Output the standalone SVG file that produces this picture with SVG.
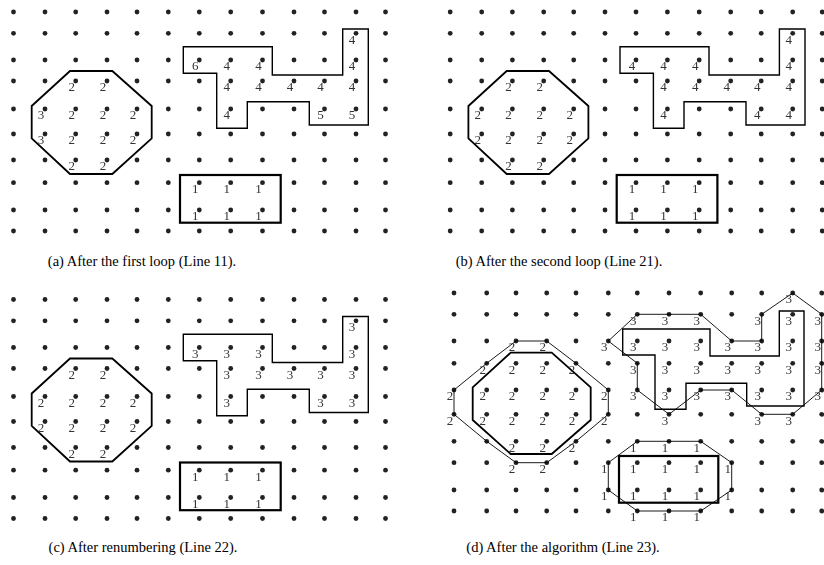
<svg xmlns="http://www.w3.org/2000/svg" xmlns:xlink="http://www.w3.org/1999/xlink" width="824" height="565" viewBox="0 0 824 565">
<style>
.dot{fill:#222}
.thick{fill:none;stroke:#000;stroke-width:1.8;stroke-linejoin:miter}
.mid{fill:none;stroke:#000;stroke-width:1.4}
.thin{fill:none;stroke:#000;stroke-width:0.9}
.lbs{filter:url(#gray)}
.lb{font-family:"Liberation Serif",serif;font-size:13px;fill:#333;text-anchor:end}
.cap{font-family:"Liberation Serif",serif;font-size:14.5px;fill:#000;text-anchor:middle}
</style>
<defs>
<filter id="gray" x="0" y="0" width="1" height="1"><feOffset dx="0" dy="0"/></filter>
<g id="rowABC" class="dot">
<circle cx="13.5" cy="0" r="2.4"/><circle cx="45" cy="0" r="2.4"/><circle cx="75.7" cy="0" r="2.4"/><circle cx="107" cy="0" r="2.4"/><circle cx="137" cy="0" r="2.4"/><circle cx="168.3" cy="0" r="2.4"/><circle cx="199.3" cy="0" r="2.4"/><circle cx="230.7" cy="0" r="2.4"/><circle cx="262.5" cy="0" r="2.4"/><circle cx="294" cy="0" r="2.4"/><circle cx="324.5" cy="0" r="2.4"/><circle cx="356" cy="0" r="2.4"/><circle cx="385.5" cy="0" r="2.4"/>
</g>
<g id="rowD" class="dot">
<circle cx="454" cy="0" r="2.4"/><circle cx="486.7" cy="0" r="2.4"/><circle cx="516" cy="0" r="2.4"/><circle cx="546.7" cy="0" r="2.4"/><circle cx="576" cy="0" r="2.4"/><circle cx="608.3" cy="0" r="2.4"/><circle cx="637.3" cy="0" r="2.4"/><circle cx="669" cy="0" r="2.4"/><circle cx="700.7" cy="0" r="2.4"/><circle cx="731.7" cy="0" r="2.4"/><circle cx="761.7" cy="0" r="2.4"/><circle cx="792.7" cy="0" r="2.4"/><circle cx="821.7" cy="0" r="2.4"/>
</g>
<g id="gridABC">
<use xlink:href="#rowABC" y="12"/><use xlink:href="#rowABC" y="33.3"/><use xlink:href="#rowABC" y="60"/><use xlink:href="#rowABC" y="81"/><use xlink:href="#rowABC" y="109"/><use xlink:href="#rowABC" y="134"/><use xlink:href="#rowABC" y="160"/><use xlink:href="#rowABC" y="182.7"/><use xlink:href="#rowABC" y="210"/><use xlink:href="#rowABC" y="231"/>
</g>
<g id="shapesABC">
<polygon class="thick" points="70,71 112.3,71 151.7,106 151.7,138.3 112.3,174 70,174 31.7,138.3 31.7,106"/>
<polygon class="mid" points="183.3,46.7 272.3,46.7 272.3,75 342.7,75 342.7,29 368.3,29 368.3,125 309.3,125 309.3,101.7 247.3,101.7 247.3,128.3 216.7,128.3 216.7,73.3 183.3,73.3"/>
<rect class="thick" x="180" y="175" width="100.7" height="47.7" style="stroke-width:2.2"/>
</g>
</defs>

<!-- Panel (a) -->
<g id="panel-a">
<use xlink:href="#gridABC"/>
<use xlink:href="#shapesABC"/>
<g id="labels-a" class="lbs" transform="translate(0.8,-0.6)">
<text class="lb" x="74.2" y="92">2</text><text class="lb" x="105.5" y="92">2</text>
<text class="lb" x="43.5" y="120">3</text><text class="lb" x="74.2" y="120">2</text><text class="lb" x="105.5" y="120">2</text><text class="lb" x="135.5" y="120">2</text>
<text class="lb" x="43.5" y="145">3</text><text class="lb" x="74.2" y="145">2</text><text class="lb" x="105.5" y="145">2</text><text class="lb" x="135.5" y="145">2</text>
<text class="lb" x="74.2" y="171">2</text><text class="lb" x="105.5" y="171">2</text>
<text class="lb" x="354.5" y="44.3">4</text>
<text class="lb" x="197.8" y="71">6</text><text class="lb" x="229.2" y="71">4</text><text class="lb" x="261" y="71">4</text><text class="lb" x="354.5" y="71">4</text>
<text class="lb" x="229.2" y="92">4</text><text class="lb" x="261" y="92">4</text><text class="lb" x="292.5" y="92">4</text><text class="lb" x="323" y="92">4</text><text class="lb" x="354.5" y="92">4</text>
<text class="lb" x="229.2" y="120">4</text><text class="lb" x="323" y="120">5</text><text class="lb" x="354.5" y="120">5</text>
<text class="lb" x="197.8" y="193.7">1</text><text class="lb" x="229.2" y="193.7">1</text><text class="lb" x="261" y="193.7">1</text>
<text class="lb" x="197.8" y="221">1</text><text class="lb" x="229.2" y="221">1</text><text class="lb" x="261" y="221">1</text>
</g>
<text class="cap" x="142" y="266">(a) After the first loop (Line 11).</text>
</g>

<!-- Panel (b) -->
<g id="panel-b">
<g transform="translate(436.7,0)">
<use xlink:href="#gridABC"/>
<use xlink:href="#shapesABC"/>
<g id="labels-b" class="lbs" transform="translate(0.8,-0.6)">
<text class="lb" x="74.2" y="92">2</text><text class="lb" x="105.5" y="92">2</text>
<text class="lb" x="43.5" y="120">2</text><text class="lb" x="74.2" y="120">2</text><text class="lb" x="105.5" y="120">2</text><text class="lb" x="135.5" y="120">2</text>
<text class="lb" x="43.5" y="145">2</text><text class="lb" x="74.2" y="145">2</text><text class="lb" x="105.5" y="145">2</text><text class="lb" x="135.5" y="145">2</text>
<text class="lb" x="74.2" y="171">2</text><text class="lb" x="105.5" y="171">2</text>
<text class="lb" x="354.5" y="44.3">4</text>
<text class="lb" x="197.8" y="71">4</text><text class="lb" x="229.2" y="71">4</text><text class="lb" x="261" y="71">4</text><text class="lb" x="354.5" y="71">4</text>
<text class="lb" x="229.2" y="92">4</text><text class="lb" x="261" y="92">4</text><text class="lb" x="292.5" y="92">4</text><text class="lb" x="323" y="92">4</text><text class="lb" x="354.5" y="92">4</text>
<text class="lb" x="229.2" y="120">4</text><text class="lb" x="323" y="120">4</text><text class="lb" x="354.5" y="120">4</text>
<text class="lb" x="197.8" y="193.7">1</text><text class="lb" x="229.2" y="193.7">1</text><text class="lb" x="261" y="193.7">1</text>
<text class="lb" x="197.8" y="221">1</text><text class="lb" x="229.2" y="221">1</text><text class="lb" x="261" y="221">1</text>
</g>
</g>
<text class="cap" x="559" y="266">(b) After the second loop (Line 21).</text>
</g>

<!-- Panel (c) -->
<g id="panel-c">
<g transform="translate(0,287.5)">
<use xlink:href="#gridABC"/>
<use xlink:href="#shapesABC"/>
<g id="labels-c" class="lbs" transform="translate(0.8,-0.6)">
<text class="lb" x="74.2" y="92">2</text><text class="lb" x="105.5" y="92">2</text>
<text class="lb" x="43.5" y="120">2</text><text class="lb" x="74.2" y="120">2</text><text class="lb" x="105.5" y="120">2</text><text class="lb" x="135.5" y="120">2</text>
<text class="lb" x="43.5" y="145">2</text><text class="lb" x="74.2" y="145">2</text><text class="lb" x="105.5" y="145">2</text><text class="lb" x="135.5" y="145">2</text>
<text class="lb" x="74.2" y="171">2</text><text class="lb" x="105.5" y="171">2</text>
<text class="lb" x="354.5" y="44.3">3</text>
<text class="lb" x="197.8" y="71">3</text><text class="lb" x="229.2" y="71">3</text><text class="lb" x="261" y="71">3</text><text class="lb" x="354.5" y="71">3</text>
<text class="lb" x="229.2" y="92">3</text><text class="lb" x="261" y="92">3</text><text class="lb" x="292.5" y="92">3</text><text class="lb" x="323" y="92">3</text><text class="lb" x="354.5" y="92">3</text>
<text class="lb" x="229.2" y="120">3</text><text class="lb" x="323" y="120">3</text><text class="lb" x="354.5" y="120">3</text>
<text class="lb" x="197.8" y="193.7">1</text><text class="lb" x="229.2" y="193.7">1</text><text class="lb" x="261" y="193.7">1</text>
<text class="lb" x="197.8" y="221">1</text><text class="lb" x="229.2" y="221">1</text><text class="lb" x="261" y="221">1</text>
</g>
</g>
<text class="cap" x="143" y="552">(c) After renumbering (Line 22).</text>
</g>

<!-- Panel (d) -->
<g id="panel-d">
<g id="grid-d">
<use xlink:href="#rowD" y="293"/><use xlink:href="#rowD" y="314.3"/><use xlink:href="#rowD" y="341"/><use xlink:href="#rowD" y="363.3"/><use xlink:href="#rowD" y="390"/><use xlink:href="#rowD" y="414.3"/><use xlink:href="#rowD" y="441.3"/><use xlink:href="#rowD" y="462.7"/><use xlink:href="#rowD" y="490"/><use xlink:href="#rowD" y="511"/>
</g>
<g id="shapes-d">
<polygon class="thick" points="510.7,352.7 551.7,352.7 590.7,387.3 590.7,420 551.7,454 510.7,454 472.7,420 472.7,387.3"/>
<polygon class="mid" points="622.7,329 710,329 710,356 779.3,356 779.3,311 804,311 804,406 746.7,406 746.7,383.3 686,383.3 686,409.3 655,409.3 655,355 622.7,355"/>
<rect class="thick" x="619" y="456" width="99.3" height="46.7" style="stroke-width:2.2"/>
</g>
<g id="connectors-d">
<polygon class="thin" points="516,341 546.7,341 576,363.3 608.3,390 608.3,414.3 576,441.3 546.7,462.7 516,462.7 486.7,441.3 454,414.3 454,390 486.7,363.3"/>
<polygon class="thin" points="608.3,341 637.3,314.3 669,314.3 700.7,314.3 731.7,341 761.7,341 761.7,314.3 792.7,293 821.7,314.3 821.7,390 792.7,414.3 761.7,414.3 731.7,390 700.7,390 669,414.3 637.3,390 637.3,363.3"/>
<polygon class="thin" points="637.3,441.3 669,441.3 700.7,441.3 731.7,462.7 731.7,490 700.7,511 669,511 637.3,511 608.3,490 608.3,462.7"/>
</g>
<g id="labels-d" class="lbs" transform="translate(0.8,-0.6)">
<text class="lb" x="514.5" y="352">2</text><text class="lb" x="545.2" y="352">2</text>
<text class="lb" x="485.2" y="374.3">2</text><text class="lb" x="514.5" y="374.3">2</text><text class="lb" x="545.2" y="374.3">2</text><text class="lb" x="574.5" y="374.3">2</text>
<text class="lb" x="452.5" y="401">2</text><text class="lb" x="485.2" y="401">2</text><text class="lb" x="514.5" y="401">2</text><text class="lb" x="545.2" y="401">2</text><text class="lb" x="574.5" y="401">2</text><text class="lb" x="606.8" y="401">2</text>
<text class="lb" x="452.5" y="425.3">2</text><text class="lb" x="485.2" y="425.3">2</text><text class="lb" x="514.5" y="425.3">2</text><text class="lb" x="545.2" y="425.3">2</text><text class="lb" x="574.5" y="425.3">2</text><text class="lb" x="606.8" y="425.3">2</text>
<text class="lb" x="514.5" y="452.3">2</text><text class="lb" x="545.2" y="452.3">2</text><text class="lb" x="574.5" y="452.3">2</text>
<text class="lb" x="514.5" y="473.7">2</text><text class="lb" x="545.2" y="473.7">2</text>

<text class="lb" x="791.2" y="304">3</text>
<text class="lb" x="635.8" y="325.3">3</text><text class="lb" x="667.5" y="325.3">3</text><text class="lb" x="699.2" y="325.3">3</text><text class="lb" x="760.2" y="325.3">3</text><text class="lb" x="791.2" y="325.3">3</text><text class="lb" x="820.2" y="325.3">3</text>
<text class="lb" x="606.8" y="352">3</text><text class="lb" x="635.8" y="352">3</text><text class="lb" x="667.5" y="352">3</text><text class="lb" x="699.2" y="352">3</text><text class="lb" x="730.2" y="352">3</text><text class="lb" x="760.2" y="352">3</text><text class="lb" x="791.2" y="352">3</text><text class="lb" x="820.2" y="352">3</text>
<text class="lb" x="635.8" y="374.3">3</text><text class="lb" x="667.5" y="374.3">3</text><text class="lb" x="699.2" y="374.3">3</text><text class="lb" x="730.2" y="374.3">3</text><text class="lb" x="760.2" y="374.3">3</text><text class="lb" x="791.2" y="374.3">3</text><text class="lb" x="820.2" y="374.3">3</text>
<text class="lb" x="635.8" y="401">3</text><text class="lb" x="667.5" y="401">3</text><text class="lb" x="699.2" y="401">3</text><text class="lb" x="730.2" y="401">3</text><text class="lb" x="760.2" y="401">3</text><text class="lb" x="791.2" y="401">3</text><text class="lb" x="820.2" y="401">3</text>
<text class="lb" x="667.5" y="425.3">3</text><text class="lb" x="760.2" y="425.3">3</text><text class="lb" x="791.2" y="425.3">3</text>

<text class="lb" x="635.8" y="452.3">1</text><text class="lb" x="667.5" y="452.3">1</text><text class="lb" x="699.2" y="452.3">1</text>
<text class="lb" x="606.8" y="473.7">1</text><text class="lb" x="635.8" y="473.7">1</text><text class="lb" x="667.5" y="473.7">1</text><text class="lb" x="699.2" y="473.7">1</text><text class="lb" x="730.2" y="473.7">1</text>
<text class="lb" x="606.8" y="501">1</text><text class="lb" x="635.8" y="501">1</text><text class="lb" x="667.5" y="501">1</text><text class="lb" x="699.2" y="501">1</text><text class="lb" x="730.2" y="501">1</text>
<text class="lb" x="635.8" y="522">1</text><text class="lb" x="667.5" y="522">1</text><text class="lb" x="699.2" y="522">1</text>
</g>
<text class="cap" x="563" y="552">(d) After the algorithm (Line 23).</text>
</g>
</svg>
